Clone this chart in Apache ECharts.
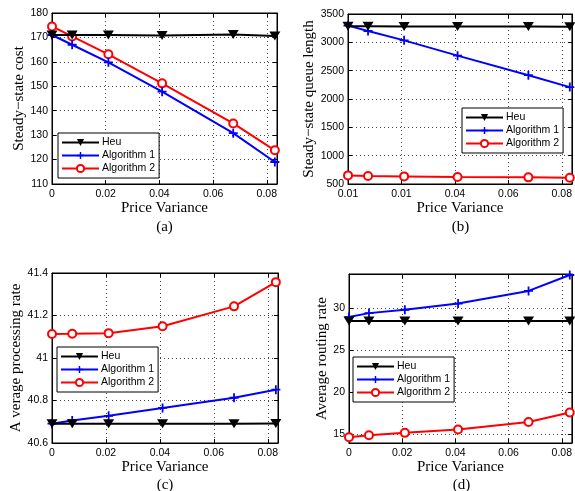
<!DOCTYPE html>
<html><head><meta charset="utf-8">
<script src="https://cdn.jsdelivr.net/npm/echarts@6/dist/echarts.min.js"></script>
<style>html,body{margin:0;padding:0;background:#fff}#c{width:575px;height:491px}</style>
</head><body><div id="c"></div>
<script>
// ---- data ----
const seriesNames = ['Heu', 'Algorithm 1', 'Algorithm 2'];
const priceVariance = [0, 0.0075, 0.021, 0.041, 0.0675, 0.083];

const costHeu  = [171, 171, 171, 170.8, 171.2, 170.6];
const costAlg1 = [171, 167, 159.8, 147.8, 130.8, 119];
const costAlg2 = [174.5, 170.4, 163.1, 151.2, 134.8, 123.8];

const queueHeu  = [3285, 3285, 3280, 3280, 3280, 3275];
const queueAlg1 = [3295, 3200, 3035, 2765, 2420, 2210];
const queueAlg2 = [652, 640, 634, 622, 617, 611];

const procHeu  = [40.691, 40.691, 40.691, 40.691, 40.691, 40.692];
const procAlg1 = [40.691, 40.706, 40.728, 40.765, 40.813, 40.851];
const procAlg2 = [41.113, 41.114, 41.117, 41.149, 41.243, 41.357];

const routHeu  = [28.43, 28.43, 28.43, 28.43, 28.43, 28.43];
const routAlg1 = [28.9, 29.37, 29.77, 30.5, 32.0, 33.88];
const routAlg2 = [14.69, 14.92, 15.2, 15.59, 16.49, 17.62];

const xTickLabels  = ['0', '0.02', '0.04', '0.06', '0.08'];
const xTickLabelsB = ['0.01', '0.01', '0.04', '0.06', '0.08'];
const yTickCost  = ['110','120','130','140','150','160','170','180'];
const yTickQueue = ['500','1000','1500','2000','2500','3000','3500'];
const yTickProc  = ['40.6','40.8','41','41.2','41.4'];
const yTickRout  = ['15','20','25','30'];

const xName = 'Price Variance';
const yNames = ['Steady\u2212state cost', 'Steady\u2212state queue length', 'A verage processing rate', 'Average routing rate'];
const panelLetters = ['(a)', '(b)', '(c)', '(d)'];

// ---- styling / layout ----
const colors = ['#000000', '#0000ff', '#ff0000'];
const triPath = 'path://M0,0 L10,0 L5,9 Z';
const plusPath = 'path://M4,0 L6,0 L6,4 L10,4 L10,6 L6,6 L6,10 L4,10 L4,6 L0,6 L0,4 L4,4 Z';
const symbols = [triPath, plusPath, 'emptyCircle'];
const symbolSizes = [[11, 9], 9, 8];
const serif = 'Liberation Serif';
const sans = 'Liberation Sans';
const X_MAX = 0.0838;

const panels = [
  {rect:{left:52, top:13, width:225, height:171}, y:{min:110, max:180, interval:10}, yl:yTickCost,
   xl:xTickLabels, data:[costHeu,costAlg1,costAlg2], legend:{left:58, top:133}, nameGap:25},
  {rect:{left:348, top:14, width:225, height:170}, y:{min:500, max:3500, interval:500}, yl:yTickQueue,
   xl:xTickLabelsB, data:[queueHeu,queueAlg1,queueAlg2], legend:{left:462, top:108}, nameGap:31},
  {rect:{left:52, top:273, width:226, height:170}, y:{min:40.6, max:41.4, interval:0.2}, yl:yTickProc,
   xl:xTickLabels, data:[procHeu,procAlg1,procAlg2], legend:{left:57, top:347}, nameGap:28},
  {rect:{left:349, top:274, width:225, height:169}, y:{min:14, max:34, splitNumber:4}, yl:yTickRout,
   xl:xTickLabels, data:[routHeu,routAlg1,routAlg2], legend:{left:353, top:357}, nameGap:18}
];

const grid = [], xAxis = [], yAxis = [], series = [], legend = [], graphic = [];
const tickStyle = {show:true, inside:true, length:4, lineStyle:{color:'#000', width:1}};
const splitStyle = {show:true, lineStyle:{color:'#444', width:1, type:[1,3]}};

panels.forEach((p, i) => {
  grid.push(Object.assign({show:true, borderColor:'#000', borderWidth:1, backgroundColor:'#fff', containLabel:false}, p.rect));
  const xl = p.xl;
  xAxis.push({type:'value', gridIndex:i, min:0, max:X_MAX, interval:0.02, position:'bottom',
    axisLine:{show:true, onZero:false, lineStyle:{color:'#000'}}, axisTick:tickStyle, splitLine:splitStyle,
    axisLabel:{color:'#000', fontFamily:sans, fontSize:10.5, margin:5, showMaxLabel:false,
      formatter:v => { const k = Math.round(v/0.02); return (Math.abs(v - k*0.02) < 1e-6 && xl[k] !== undefined) ? xl[k] : ''; }},
    name:xName, nameLocation:'middle', nameGap:17, nameTextStyle:{color:'#000', fontFamily:serif, fontSize:15}});
  xAxis.push({type:'value', gridIndex:i, min:0, max:X_MAX, interval:0.02, position:'top',
    axisLine:{show:true, onZero:false, lineStyle:{color:'#000'}}, axisTick:tickStyle, splitLine:{show:false}, axisLabel:{show:false}});
  const yl = p.yl, ymin = p.y.min;
  const ybase = Object.assign({type:'value', gridIndex:i}, p.y);
  const step = p.y.interval || 5;
  yAxis.push(Object.assign({}, ybase, {position:'left',
    axisLine:{show:true, onZero:false, lineStyle:{color:'#000'}}, axisTick:tickStyle, splitLine:splitStyle,
    axisLabel:{color:'#000', fontFamily:sans, fontSize:10.5, margin:4, showMinLabel: p.y.interval ? true : false, showMaxLabel: p.y.interval ? true : false,
      formatter:v => { const first = p.y.interval ? ymin : 15; const k = Math.round((v-first)/step); return (Math.abs(v-(first+k*step)) < step*1e-3 && yl[k] !== undefined) ? yl[k] : ''; }},
    name:yNames[i], nameLocation:'middle', nameGap:p.nameGap, nameTextStyle:{color:'#000', fontFamily:serif, fontSize:15}}));
  yAxis.push(Object.assign({}, ybase, {position:'right',
    axisLine:{show:true, onZero:false, lineStyle:{color:'#000'}}, axisTick:tickStyle, splitLine:{show:false}, axisLabel:{show:false}}));
  p.data.forEach((arr, s) => {
    const item = s === 2 ? {color:colors[s], borderWidth:2} : {color:colors[s]};
    series.push({type:'line', name:seriesNames[s], xAxisIndex:2*i, yAxisIndex:2*i,
      data:priceVariance.map((x, j) => [x, arr[j]]),
      symbol:symbols[s], symbolSize:symbolSizes[s], showAllSymbol:true,
      lineStyle:{color:colors[s], width:2},
      itemStyle:item,
      z: 3 - s, animation:false});
  });
  legend.push({data:seriesNames, orient:'vertical', left:p.legend.left, top:p.legend.top,
    backgroundColor:'#fff', borderColor:'#000', borderWidth:1, padding:[4,4,4,3], itemGap:2,
    itemWidth:37, itemHeight:9, selectedMode:false,
    textStyle:{color:'#000', fontFamily:sans, fontSize:10.5, padding:[0,0,0,-2]}});
  const cx = p.rect.left + p.rect.width / 2;
  graphic.push({type:'text', x:cx, y: i < 2 ? 227 : 485, style:{text:panelLetters[i], fill:'#000', font:'15px "Liberation Serif"', align:'center', verticalAlign:'middle'}});
});

const chart = echarts.init(document.getElementById('c'), null, {renderer:'canvas'});
chart.setOption({animation:false, backgroundColor:'#fff', grid, xAxis, yAxis, series, legend, graphic});
</script>
</body></html>
